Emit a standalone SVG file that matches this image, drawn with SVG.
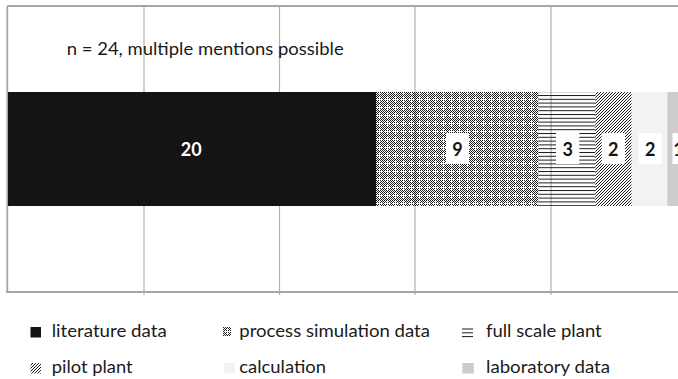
<svg xmlns="http://www.w3.org/2000/svg" width="678" height="379" viewBox="0 0 678 379">
  <style>
    .frame { stroke: #a6a6a6; stroke-width: 1.8; fill: none; }
    .grid { stroke: #b3b3b3; stroke-width: 1.2; fill: none; }
    .txt { font-family: Lato, "Liberation Sans", sans-serif; font-size: 18px; fill: #1a1a1a; }
    .num { font-family: Lato, "Liberation Sans", sans-serif; font-size: 18px; font-weight: bold; fill: #141414; text-anchor: middle; }
    .box { fill: #ffffff; }
  </style>
  <defs>
    <!-- fine checkerboard with a sparse open cross -->
    <pattern id="simPat" patternUnits="userSpaceOnUse" width="8" height="8">
      <path fill="#1a1a1a" d="M0 0h1v1h-1zM2 0h1v1h-1zM4 0h1v1h-1zM6 0h1v1h-1z
        M1 1h1v1h-1zM5 1h1v1h-1zM7 1h1v1h-1z
        M0 2h1v1h-1zM2 2h1v1h-1zM4 2h1v1h-1zM6 2h1v1h-1z
        M7 3h1v1h-1z
        M0 4h1v1h-1zM2 4h1v1h-1zM4 4h1v1h-1zM6 4h1v1h-1z
        M1 5h1v1h-1zM5 5h1v1h-1zM7 5h1v1h-1z
        M0 6h1v1h-1zM2 6h1v1h-1zM4 6h1v1h-1zM6 6h1v1h-1z
        M1 7h1v1h-1zM3 7h1v1h-1zM5 7h1v1h-1zM7 7h1v1h-1z"/>
    </pattern>
    <!-- narrow horizontal lines -->
    <pattern id="horzPat" patternUnits="userSpaceOnUse" width="8" height="3.8">
      <rect x="0" y="0" width="8" height="1" fill="#1a1a1a"/>
    </pattern>
    <!-- dense upward diagonals -->
    <pattern id="diagPat" patternUnits="userSpaceOnUse" width="3" height="3">
      <path d="M-1 1L1 -1M0 3L3 0M2 4L4 2" stroke="#1a1a1a" stroke-width="1"/>
    </pattern>
  </defs>

  <rect x="0" y="0" width="678" height="379" fill="#ffffff"/>

  <!-- plot area frame and vertical gridlines -->
  <g id="plot-frame">
    <path class="grid" d="M144 6V295M279.5 6V295M415 6V295M551 6V295"/>
    <path class="frame" d="M7.3 6H678M7.3 6V292M6 292H678"/>
  </g>

  <text id="sample-note" class="txt" x="66.7" y="55" textLength="277" lengthAdjust="spacingAndGlyphs">n = 24, multiple mentions possible</text>

  <!-- stacked bar segments -->
  <g id="seg-literature">
    <rect x="8" y="92" width="368" height="114" fill="#141414"/>
    <text class="num" x="191.2" y="156" style="fill:#ffffff">20</text>
  </g>
  <g id="seg-simulation">
    <rect x="376" y="92" width="162.3" height="114" fill="url(#simPat)"/>
    <rect class="box" x="446" y="133" width="23" height="31"/>
    <text class="num" x="457.5" y="156">9</text>
  </g>
  <g id="seg-fullscale">
    <rect x="538.3" y="92" width="57" height="114" fill="url(#horzPat)"/>
    <rect class="box" x="556" y="133" width="23.3" height="31"/>
    <text class="num" x="567.7" y="156">3</text>
  </g>
  <g id="seg-pilot">
    <rect x="595.3" y="92" width="36.4" height="114" fill="url(#diagPat)"/>
    <rect class="box" x="601.7" y="133" width="23.3" height="31"/>
    <text class="num" x="613.3" y="156">2</text>
  </g>
  <g id="seg-calculation">
    <rect x="631.7" y="92" width="35.6" height="114" fill="#f2f2f2"/>
    <rect class="box" x="639" y="133" width="22.7" height="31"/>
    <text class="num" x="650.3" y="156">2</text>
  </g>
  <g id="seg-laboratory">
    <rect x="667.3" y="92" width="18.3" height="114" fill="#cccccc"/>
    <rect class="box" x="672.5" y="133" width="23" height="31"/>
    <text class="num" x="678.5" y="156">1</text>
  </g>

  <!-- legend -->
  <g id="legend-literature">
    <rect x="30.5" y="327" width="10.5" height="10.5" fill="#141414"/>
    <text class="txt" x="51.7" y="337.3" textLength="115" lengthAdjust="spacingAndGlyphs">literature data</text>
  </g>
  <g id="legend-simulation">
    <rect x="223" y="327" width="8" height="9" fill="url(#simPat)"/>
    <text class="txt" x="239.3" y="337.3" textLength="190.7" lengthAdjust="spacingAndGlyphs">process simulation data</text>
  </g>
  <g id="legend-fullscale">
    <path d="M462 329H473M462 332.8H473M462 336.6H473" stroke="#1a1a1a" stroke-width="1"/>
    <text class="txt" x="486" y="337.3" textLength="115.7" lengthAdjust="spacingAndGlyphs">full scale plant</text>
  </g>
  <g id="legend-pilot">
    <rect x="30.5" y="363" width="10.5" height="10.5" fill="url(#diagPat)"/>
    <text class="txt" x="51.7" y="373.3" textLength="81" lengthAdjust="spacingAndGlyphs">pilot plant</text>
  </g>
  <g id="legend-calculation">
    <rect x="224" y="363" width="11" height="10.5" fill="#f2f2f2"/>
    <text class="txt" x="239.3" y="373.3" textLength="86.7" lengthAdjust="spacingAndGlyphs">calculation</text>
  </g>
  <g id="legend-laboratory">
    <rect x="462.3" y="363" width="11.5" height="10.5" fill="#cccccc"/>
    <text class="txt" x="486" y="373.3" textLength="124" lengthAdjust="spacingAndGlyphs">laboratory data</text>
  </g>
</svg>
